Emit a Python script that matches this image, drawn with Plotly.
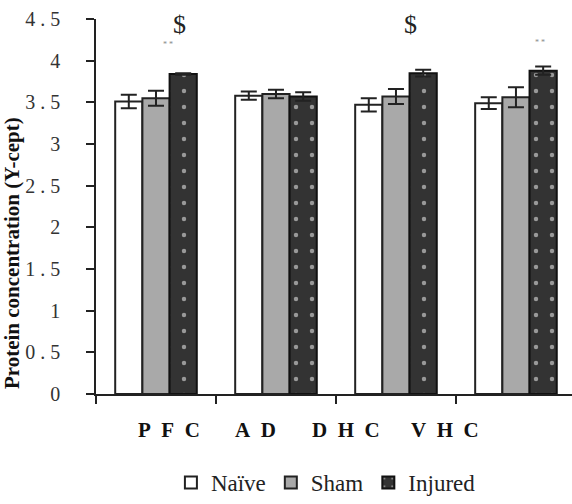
import plotly.graph_objects as go

regions = ["P F C", "A D", "D H C", "V H C"]
groups = ["Naïve", "Sham", "Injured"]
naive = [3.51, 3.58, 3.47, 3.49]
naive_err = [0.08, 0.05, 0.08, 0.07]
sham = [3.55, 3.60, 3.57, 3.56]
sham_err = [0.09, 0.05, 0.09, 0.12]
injured = [3.84, 3.57, 3.85, 3.88]
injured_err = [0.01, 0.05, 0.04, 0.05]
y_ticks = [0, 0.5, 1, 1.5, 2, 2.5, 3, 3.5, 4, 4.5]
y_tick_text = ["0", "0.5", "1", "1.5", "2", "2.5", "3", "3.5", "4", "4.5"]
y_title = "Protein concentration (Y-cept)"

# sig marks: (group index, offset, y, text)
sig_marks = [(0, 0.2, 4.43, "$"), (2, 0.117, 4.43, "$"), (3, 0.258, 4.58, "$")]
star_marks = [(0, 0.1, 4.2, "* *"), (3, 0.2, 4.22, "* *")]
label_offsets = [0.11, -0.17, -0.42, -0.59]

xs = list(range(len(regions)))
serif = "Liberation Serif"
NB = "\u00a0"

fig = go.Figure()
styles = [
    dict(color="white", line=dict(color="#222", width=2)),
    dict(color="#a9a9a9", line=dict(color="#222", width=2)),
    dict(color="#333333", line=dict(color="#111", width=2),
         pattern=dict(shape=".", fgcolor="white", bgcolor="#333333", size=16, solidity=0.06, fillmode="overlay")),
]
for name, vals, errs, st in zip(groups, [naive, sham, injured], [naive_err, sham_err, injured_err], styles):
    fig.add_trace(go.Bar(
        x=xs, y=vals, name=name, marker=st,
        error_y=dict(type="data", array=errs, color="#222", thickness=2, width=8),
    ))

for gi, off, yv, t in sig_marks:
    fig.add_annotation(x=gi + off, y=yv, text=t, showarrow=False,
                       font=dict(family=serif, size=26, color="#222"))
for gi, off, yv, t in star_marks:
    fig.add_annotation(x=gi + off, y=yv, text=t, showarrow=False,
                       font=dict(family=serif, size=8, color="#888"))
for gi, (lab, off) in enumerate(zip(regions, label_offsets)):
    fig.add_annotation(x=gi + off, y=0, yref="y", yshift=-36,
                       text="<b>" + lab.replace(" ", NB * 2) + "</b>", showarrow=False,
                       font=dict(family=serif, size=21, color="#111"))
fig.add_annotation(xref="paper", yref="paper", x=-0.175, y=0.375, xanchor="center", yanchor="middle",
                   text="<b>" + y_title + "</b>",
                   textangle=-90, showarrow=False, font=dict(family=serif, size=21, color="#111"))

fig.update_layout(
    width=572, height=504,
    margin=dict(l=96, r=0, t=19, b=102),
    paper_bgcolor="white", plot_bgcolor="white",
    barmode="group", bargap=0.32, bargroupgap=0,
    font=dict(family=serif, color="#222"),
    showlegend=True,
    legend=dict(orientation="h", x=0.483, xanchor="center", y=-0.18, yanchor="top",
                font=dict(family=serif, size=23, color="#222"), itemwidth=30,
                tracegroupgap=0, traceorder="normal"),
)
fig.update_xaxes(
    range=[-0.5, 3.467], tickvals=[-0.5, 0.5, 1.5, 2.5], ticktext=["", "", "", ""],
    ticks="outside", ticklen=8, tickwidth=1.5, tickcolor="#222",
    showline=True, linecolor="#222", linewidth=1.5, showgrid=False, zeroline=False,
)
fig.update_yaxes(
    range=[0, 4.5], tickvals=y_ticks,
    ticktext=[t.replace(".", NB + "." + NB) for t in y_tick_text],
    ticks="outside", ticklen=8, tickwidth=1.5, tickcolor="#222",
    showline=True, linecolor="#222", linewidth=1.5, showgrid=False, zeroline=False,
    tickfont=dict(family=serif, size=20, color="#333"), ticklabelstandoff=22,
)

fig.write_html("out.html")
